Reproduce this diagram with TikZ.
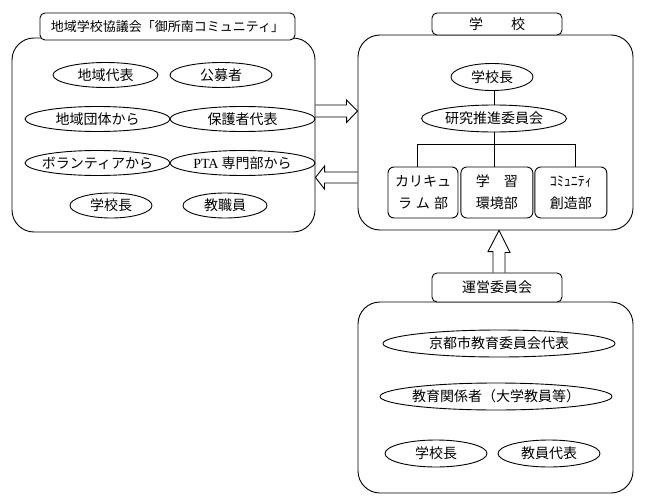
\documentclass[tikz,border=0pt]{standalone}
\usepackage{fontspec}
\setmainfont{Noto Sans CJK JP}
\newfontfamily\latinfont{Liberation Serif}
\usetikzlibrary{shapes,positioning}
\tikzstyle{group} = [draw, rounded corners=22pt, inner sep=0pt]
\tikzstyle{grouptitle} = [draw, fill=white, rounded corners=5pt, inner sep=0pt]
\tikzstyle{member} = [ellipse, draw, inner sep=0pt, minimum height=25pt]
\tikzstyle{dept} = [draw, rounded corners=6pt, align=center, inner sep=0pt, minimum height=51pt]
\tikzstyle{hollow} = [draw, line join=miter]

\begin{document}
\begin{tikzpicture}[x=1pt, y=-1pt, line width=0.9pt, font=\fontsize{14}{22}\selectfont]
    \useasboundingbox (0,0) rectangle (650,503);
    % Place council
    \node [group, minimum width=303pt, minimum height=194pt] (council) at (163.5,135) {};
    \node [grouptitle, minimum width=255pt, minimum height=27pt, font=\fontsize{13}{16}\selectfont] (councilname) at (167.5,26.5) {地域学校協議会「御所南コミュニティ」};
    \node [member, minimum width=105pt, label=center:地域代表] (localrep) at (105.5,75) {};
    \node [member, minimum width=102pt, label=center:公募者] (public) at (221,75) {};
    \node [member, minimum width=145pt, label=center:地域団体から] (localgroup) at (97.5,119) {};
    \node [member, minimum width=145pt, label=center:保護者代表] (parentrep) at (242.5,119) {};
    \node [member, minimum width=145pt, label=center:ボランティアから] (volunteer) at (97.5,163) {};
    \node [member, minimum width=145pt, label={center:{\latinfont PTA} 専門部から}] (pta) at (242.5,163) {};
    \node [member, minimum width=82pt, label=center:学校長] (cprincipal) at (111,205.5) {};
    \node [member, minimum width=84pt, label=center:教職員] (staff) at (225,205.5) {};
    % Place school
    \node [group, minimum width=275pt, minimum height=195pt] (school) at (495.5,132.5) {};
    \node [grouptitle, minimum width=130pt, minimum height=22pt] (schoolname) at (497,24) {学　　校};
    \node [member, minimum width=82pt, minimum height=27pt, label=center:学校長] (principal) at (492,77) {};
    \node [member, minimum width=145pt, minimum height=27pt, label=center:研究推進委員会] (research) at (494,118.5) {};
    \node [dept, minimum width=70pt] (curriculum) at (423,192.5) {カリキュ\\ラ\hspace{4pt}ム\hspace{4pt}部};
    \node [dept, minimum width=72pt, right=2pt of curriculum] (learning) {学　習\\環境部};
    \node [dept, minimum width=72pt, right=1pt of learning] (community) {ｺﾐｭﾆﾃｨ\\創造部};
    % Place steering committee
    \node [group, minimum width=275pt, minimum height=191pt] (steering) at (495.5,397.5) {};
    \node [grouptitle, minimum width=130pt, minimum height=29pt] (steeringname) at (497,287.5) {運営委員会};
    \node [member, minimum width=232pt, minimum height=27pt, label=center:京都市教育委員会代表] (board) at (499,343.5) {};
    \node [member, minimum width=232pt, minimum height=27pt, label=center:教育関係者（大学教員等）] (academic) at (496,396.5) {};
    \node [member, minimum width=102pt, minimum height=27pt, label=center:学校長] (sprincipal) at (436,453.5) {};
    \node [member, minimum width=102pt, minimum height=27pt, label=center:教員代表] (teacherrep) at (549,453.5) {};
    % Draw edges
    \draw (principal.south -| research.north) -- (research.north);
    \draw (research.south) -- (research.south |- learning.north);
    \draw (curriculum.north -| 417,0) -- ++(0,-22) -| (community.north -| 575,0);
    % Draw block arrows
    \path [hollow] (council.east |- 0,105) -- ++(31,0) -- ++(0,-5) -- (school.west |- 0,111) -- ++(-11,11.5) -- ++(0,-5.5) -- (council.east |- 0,117);
    \path [hollow] (school.west |- 0,172) -- ++(-33,0) -- ++(0,-6) -- (council.east |- 0,177.5) -- ++(9,11.5) -- ++(0,-6) -- (school.west |- 0,183);
    \path [hollow] (steeringname.north -| 493,0) -- ++(0,-21) -- ++(-5,0) -- (school.south -| 499,0) -- ++(11,22) -- ++(-5,0) -- (steeringname.north -| 505,0);
\end{tikzpicture}
\end{document}
